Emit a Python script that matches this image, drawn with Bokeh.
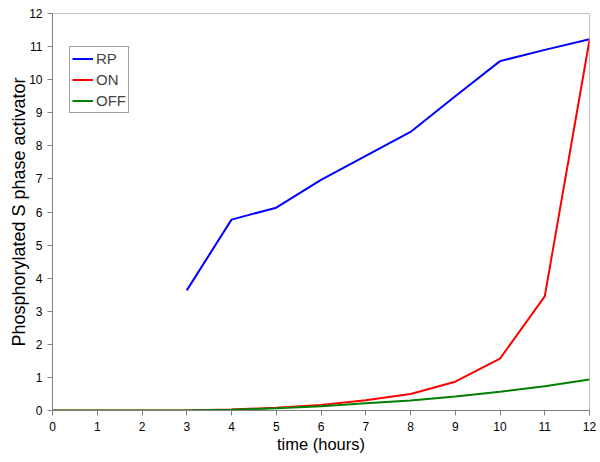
from bokeh.plotting import figure
from bokeh.models import Range1d, FixedTicker, Legend, LegendItem
from bokeh.embed import file_html
from bokeh.resources import INLINE

hours = [0, 1, 2, 3, 4, 5, 6, 7, 8, 9, 10, 11, 12]
rp_hours = [3, 4, 5, 6, 7, 8, 9, 10, 11, 12]
rp = [3.63, 5.77, 6.13, 6.97, 7.70, 8.42, 9.50, 10.56, 10.90, 11.22]
on = [0, 0, 0, 0, 0.03, 0.08, 0.17, 0.31, 0.50, 0.87, 1.57, 3.45, 11.20]
off = [0, 0, 0, 0, 0.02, 0.07, 0.13, 0.22, 0.30, 0.42, 0.57, 0.73, 0.94]
x_ticks = list(range(0, 13))
y_ticks = list(range(0, 13))
x_title = "time (hours)"
y_title = "Phosphorylated S phase activator"

FONT = "Liberation Sans"

p = figure(width=600, height=462, output_backend="svg", toolbar_location=None,
           x_range=Range1d(0, 12), y_range=Range1d(0, 12),
           min_border_left=52, min_border_right=11, min_border_top=13, min_border_bottom=52)
p.background_fill_color = "white"
p.border_fill_color = "white"
p.outline_line_color = "#c0c0c0"
p.outline_line_width = 1
p.grid.visible = False

for ax in (p.xaxis[0], p.yaxis[0]):
    ax.ticker = FixedTicker(ticks=x_ticks)
    ax.axis_line_color = "#808080"
    ax.major_tick_line_color = "#808080"
    ax.major_tick_out = 5
    ax.major_tick_in = 0
    ax.minor_tick_line_color = None
    ax.major_label_text_font = FONT
    ax.major_label_text_font_size = "12px"
    ax.major_label_text_color = "black"
    ax.axis_label_text_font = FONT
    ax.axis_label_text_font_style = "normal"
    ax.axis_label_text_color = "black"
p.yaxis[0].ticker = FixedTicker(ticks=y_ticks)
p.xaxis.axis_label = x_title
p.yaxis.axis_label = y_title
p.xaxis.axis_label_text_font_size = "16.5px"
p.yaxis.axis_label_text_font_size = "18px"
p.xaxis.major_label_standoff = 6
p.xaxis.axis_label_standoff = 1
p.yaxis.major_label_standoff = 5
p.yaxis.axis_label_standoff = -3

r_rp = p.line(rp_hours, rp, line_color="#0000ff", line_width=2)
r_on = p.line(hours, on, line_color="#ff0000", line_width=2)
r_off = p.line(hours, off, line_color="#008000", line_width=2)

legend = Legend(items=[LegendItem(label="RP", renderers=[r_rp]),
                       LegendItem(label="ON", renderers=[r_on]),
                       LegendItem(label="OFF", renderers=[r_off])],
                location=(17, 297))
legend.label_text_font = FONT
legend.label_text_font_size = "15px"
legend.glyph_width = 21
legend.glyph_height = 19
legend.label_height = 19
legend.label_standoff = 3
legend.spacing = 2
legend.padding = 2
legend.margin = 0
legend.border_line_color = "#404040"
legend.border_line_width = 1
legend.background_fill_color = "white"
p.add_layout(legend)

open("out.html", "w").write(file_html(p, INLINE))
